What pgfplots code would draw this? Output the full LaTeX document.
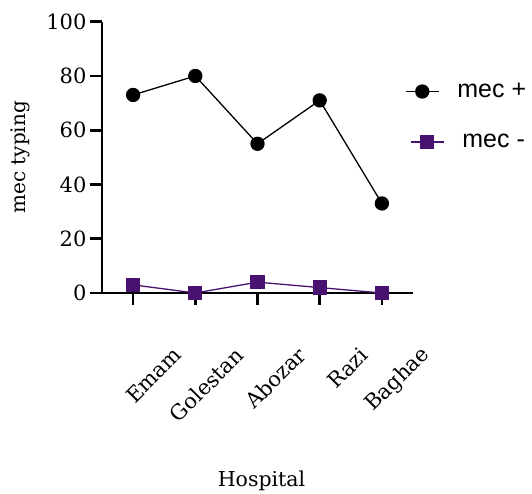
\documentclass[border=0pt]{standalone}
\usepackage{fontspec}
\setmainfont{DejaVu Serif}
\newfontfamily\legendfont{Liberation Sans}
\usepackage{pgfplots}
\pgfplotsset{compat=1.18}
\definecolor{mecpurple}{RGB}{74,18,112}
\begin{document}
\begin{tikzpicture}
\useasboundingbox (-102pt,-201pt) rectangle (430pt,293pt);
\begin{axis}[
  scale only axis, width=311pt, height=271.3pt,
  xmin=-0.5, xmax=4.5, ymin=0, ymax=100,
  clip=false,
  axis lines=left,
  axis line style={-, line width=2.7pt},
  xtick={0,1,2,3,4},
  xticklabels={Emam,Golestan,Abozar,Razi,Baghae},
  ytick={0,20,40,60,80,100},
  tick align=outside, major tick length=12pt,
  tick style={line width=2.7pt, black},
  minor tick num=0,
  /pgf/number format/assume math mode=true,
  ticklabel style={font=\fontsize{21}{25}\selectfont},
  xticklabel style={xshift=47pt, yshift=-44pt, rotate=45, anchor=east},
  xlabel={Hospital},
  ylabel={mec typing},
  every axis x label/.style={at={(axis description cs:0.513,-0.693)}, anchor=center, font=\fontsize{20.5}{24}\selectfont},
  every axis y label/.style={at={(axis description cs:-0.2637,0.5)}, rotate=90, anchor=center, font=\fontsize{20}{24}\selectfont},
  legend style={at={(rel axis cs:0.974,0.6506)}, anchor=west, draw=none, fill=none,
    font=\fontsize{25}{29}\legendfont, row sep=35pt, column sep=13pt, inner sep=0pt,
    nodes={inner sep=0pt}},
  legend cell align=left,
  legend image code/.code={\draw[mark repeat=2, mark phase=2, #1] plot coordinates {(0pt,0pt) (16.5pt,0pt) (33pt,0pt)};},
]
\addplot[black, line width=1.3pt, mark=*, mark size=6.5pt, mark options={fill=black}]
  coordinates {(0,73) (1,80) (2,55) (3,71) (4,33)};
\addlegendentry{mec +}
\addplot[mecpurple, line width=1.3pt, mark=square*, mark size=6.5pt, mark options={fill=mecpurple},
  legend image post style={xshift=5pt}]
  coordinates {(0,3) (1,0) (2,4) (3,2) (4,0)};
\addlegendentry{\hspace*{5pt}mec -}
\end{axis}
\end{tikzpicture}
\end{document}
